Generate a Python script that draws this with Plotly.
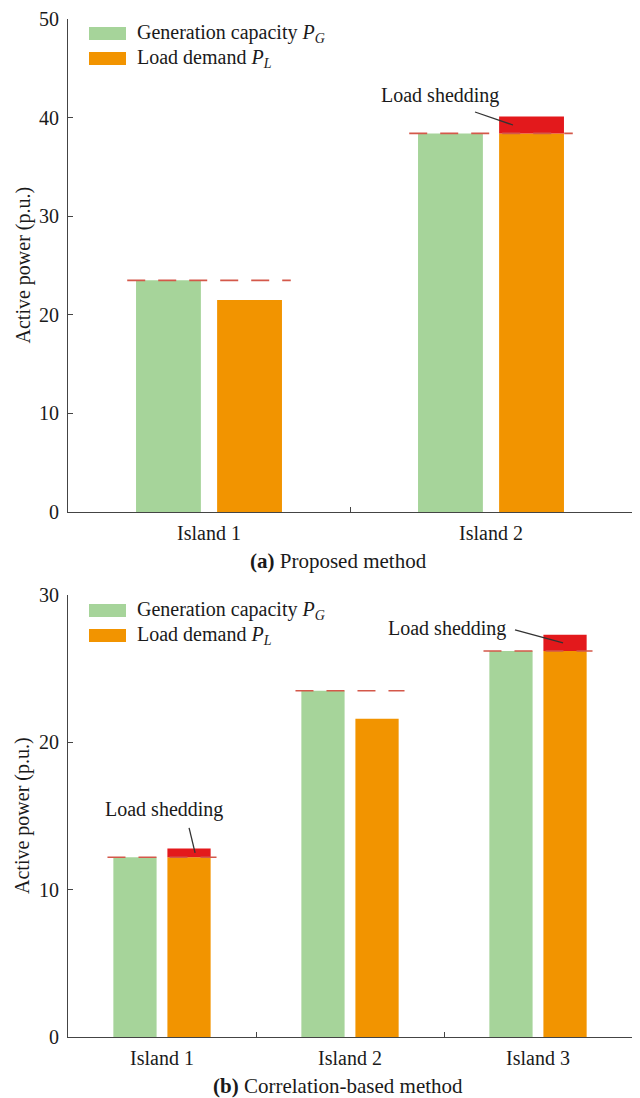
import plotly.graph_objects as go

# ---------------- data ----------------
islands_a = ["Island 1", "Island 2"]
gen_a = [23.5, 38.4]
load_a = [21.5, 38.4]
shed_a = [None, 1.7]

islands_b = ["Island 1", "Island 2", "Island 3"]
gen_b = [12.2, 23.5, 26.2]
load_b = [12.2, 21.6, 26.2]
shed_b = [0.6, None, 1.1]

yticks_a = [0, 10, 20, 30, 40, 50]
yticks_b = [0, 10, 20, 30]

caption_a = "<b>(a)</b> Proposed method"
caption_b = "<b>(b)</b> Correlation-based method"
ytitle = "Active power (p.u.)"
leg_gen = "Generation capacity <i>P</i><sub><i>G</i></sub>"
leg_load = "Load demand <i>P</i><sub><i>L</i></sub>"
shed_label = "Load shedding"

# ---------------- style ----------------
W, H = 640, 1098
ML, MR = 68, 8
PW = W - ML - MR
GREEN = "#a6d49a"
ORANGE = "#f29400"
RED = "#e3191c"
DASH = "#d4584a"
AXC = "#444444"
FONT = "Liberation Serif"
TXT = "#1a1a1a"


def X(px):
    return (px - ML) / PW


def Y(py):
    return 1 - py / H


fig = go.Figure()


def add_panel(cats, gen, load, shed, xa, ya):
    fig.add_trace(go.Bar(x=cats, y=gen, marker=dict(color=GREEN, line=dict(width=0)),
                         offsetgroup="g", xaxis=xa, yaxis=ya, showlegend=False, name="P_G"))
    fig.add_trace(go.Bar(x=cats, y=load, marker=dict(color=ORANGE, line=dict(width=0)),
                         offsetgroup="l", xaxis=xa, yaxis=ya, showlegend=False, name="P_L"))
    fig.add_trace(go.Bar(x=cats, y=shed, base=load, marker=dict(color=RED, line=dict(width=0)),
                         offsetgroup="l", xaxis=xa, yaxis=ya, showlegend=False, name="shed"))
    for i, g in enumerate(gen):
        fig.add_shape(type="line", xref=xa, yref=ya, x0=i - 0.29, x1=i + 0.29, y0=g, y1=g,
                      line=dict(color=DASH, width=1.7, dash="18px,13px"), layer="above")


add_panel(islands_a, gen_a, load_a, shed_a, "x", "y")
add_panel(islands_b, gen_b, load_b, shed_b, "x2", "y2")

axis_common = dict(showline=True, linecolor=AXC, linewidth=1, ticks="inside", ticklen=5,
                   tickcolor=AXC, showgrid=False, zeroline=False, automargin=False,
                   tickfont=dict(family=FONT, size=20, color=TXT))

dom_a = [Y(512), Y(19)]
dom_b = [Y(1037), Y(595)]

fig.update_layout(
    width=W, height=H,
    margin=dict(l=ML, r=MR, t=0, b=0, autoexpand=False),
    plot_bgcolor="white", paper_bgcolor="white",
    font=dict(family=FONT, color=TXT),
    barmode="group", bargap=0.425, bargroupgap=0.2,
    showlegend=False,
    xaxis=dict(domain=[0, 1], anchor="y", type="category", tickson="boundaries",
               ticklabelstandoff=3, **axis_common),
    yaxis=dict(domain=dom_a, anchor="x", range=[0, 50], tickvals=yticks_a,
               ticklabelstandoff=4, **axis_common),
    xaxis2=dict(domain=[0, 1], anchor="y2", type="category", tickson="boundaries",
                ticklabelstandoff=3, **axis_common),
    yaxis2=dict(domain=dom_b, anchor="x2", range=[0, 30], tickvals=yticks_b,
                ticklabelstandoff=4, **axis_common),
)


# custom legends
def add_legend(top_px):
    for k, (col, lab) in enumerate([(GREEN, leg_gen), (ORANGE, leg_load)]):
        y0 = top_px + 25 * k
        fig.add_shape(type="rect", xref="paper", yref="paper", x0=X(89), x1=X(126),
                      y0=Y(y0 + 13), y1=Y(y0), fillcolor=col, line=dict(width=0))
        fig.add_annotation(xref="paper", yref="paper", x=X(135), y=Y(y0 + 6.5),
                           xanchor="left", yanchor="middle", text=lab, showarrow=False,
                           font=dict(family=FONT, size=20, color=TXT))


add_legend(27)
add_legend(604)

# y-axis titles and captions
for dom in (dom_a, dom_b):
    fig.add_annotation(xref="paper", yref="paper", x=X(23), y=(dom[0] + dom[1]) / 2,
                       text=ytitle, textangle=-90, showarrow=False, xanchor="center",
                       yanchor="middle", font=dict(family=FONT, size=20, color=TXT))

for cap, py in ((caption_a, 561), (caption_b, 1086)):
    fig.add_annotation(xref="paper", yref="paper", x=X(338), y=Y(py), text=cap,
                       showarrow=False, xanchor="center", yanchor="middle",
                       font=dict(family=FONT, size=21, color=TXT))

# load shedding callouts: (xref, yref, island index, x offset, load, shed, line tail dx,dy(up), text dx,dy(up))
callouts = [
    ("x", "y", 1, 0.078, load_a[1], shed_a[1], -38, 13, -73, 29),
    ("x2", "y2", 0, 0.176, load_b[0], shed_b[0], -6, 25, -31, 43),
    ("x2", "y2", 2, 0.133, load_b[2], shed_b[2], -48, 13, -116, 14),
]
for xr, yr, i, dx, ld, sh, lx, ly, tx, ty in callouts:
    yt = ld + sh / 2
    fig.add_shape(type="line", xref=xr, yref=yr, xsizemode="pixel", ysizemode="pixel",
                  xanchor=i + dx, yanchor=yt, x0=lx, x1=0, y0=ly, y1=0,
                  line=dict(color="#333333", width=1.3), layer="above")
    fig.add_annotation(xref=xr, yref=yr, x=i + dx, y=yt, xshift=tx, yshift=ty,
                       text=shed_label, showarrow=False, xanchor="center", yanchor="middle",
                       font=dict(family=FONT, size=20, color=TXT))

fig.write_html("out.html")
